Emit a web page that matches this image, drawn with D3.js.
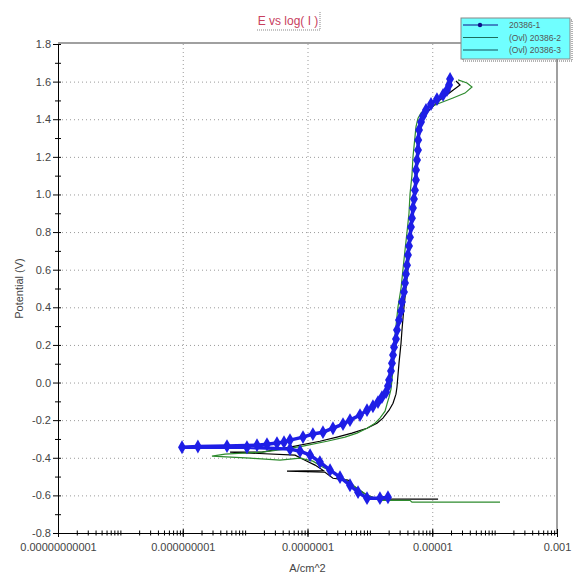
<!DOCTYPE html>
<html>
<head>
<meta charset="utf-8">
<script src="https://cdn.jsdelivr.net/npm/d3@7"></script>
<style>
  body { margin: 0; background: #fff; }
  text { font-family: "Liberation Sans", Arial, sans-serif; }
</style>
</head>
<body>
<div id="chart"></div>
<script>
// series data: potential (V) and current density (A/cm^2)
const names = ["20386-1", "(Ovl) 20386-2", "(Ovl) 20386-3"];
const colors = ["#1e1ee6", "#2e8b2e", "#000000"];

const s1V = [-0.610, -0.615, -0.615, -0.583, -0.546, -0.503, -0.466, -0.423, -0.386, -0.365, -0.354,
  -0.344, -0.344, -0.340, -0.338, -0.333, -0.328, -0.322, -0.317, -0.306,
  -0.290, -0.274, -0.264, -0.243, -0.221, -0.200, -0.173, -0.147, -0.126, -0.104, -0.078, -0.051,
  -0.019, 0.013, 0.061, 0.103, 0.146, 0.188, 0.231, 0.279, 0.332, 0.380, 0.428, 0.481, 0.529,
  0.577, 0.624, 0.678, 0.726, 0.773, 0.827, 0.874, 0.928, 0.976, 1.023, 1.077, 1.130, 1.183,
  1.236, 1.289, 1.343, 1.385, 1.417, 1.449, 1.481, 1.507, 1.529, 1.555, 1.582, 1.614];
const s1I = [1.95e-6, 1.45e-6, 9.0e-7, 6.46e-7, 4.8e-7, 3.32e-7, 2.3e-7, 1.58e-7, 1.1e-7, 7.6e-8, 5.24e-8,
  1.07e-8, 9.73e-10, 1.75e-9, 5.12e-9, 1.55e-8, 2.24e-8, 3.24e-8, 4.2e-8, 5.24e-8,
  8.47e-8, 1.22e-7, 1.77e-7, 2.56e-7, 3.71e-7, 4.8e-7, 6.95e-7, 9.0e-7, 1.12e-6, 1.35e-6, 1.56e-6, 1.82e-6,
  1.95e-6, 2.03e-6, 2.18e-6, 2.26e-6, 2.35e-6, 2.44e-6, 2.62e-6, 2.72e-6, 2.93e-6, 3.16e-6, 3.27e-6, 3.52e-6, 3.66e-6,
  3.79e-6, 3.94e-6, 4.08e-6, 4.24e-6, 4.40e-6, 4.56e-6, 4.73e-6, 4.91e-6, 5.09e-6, 5.28e-6, 5.48e-6, 5.5e-6, 5.70e-6,
  5.91e-6, 5.95e-6, 6.14e-6, 6.61e-6, 7.11e-6, 7.94e-6, 9.55e-6, 1.19e-5, 1.49e-5, 1.72e-5, 1.86e-5, 1.93e-5];

const s2V = [-0.636, -0.636, -0.636, -0.636, -0.626, -0.626, -0.599, -0.562, -0.509, -0.477, -0.450, -0.418,
  -0.402, -0.413, -0.402, -0.391, -0.381, -0.370, -0.354, -0.338, -0.312, -0.290, -0.269, -0.243, -0.216, -0.189,
  -0.152, -0.115, -0.078, -0.035, 0.013, 0.071, 0.135, 0.199, 0.300, 0.401, 0.502, 0.603, 0.704, 0.800,
  0.901, 1.002, 1.103, 1.199, 1.305, 1.359, 1.406, 1.433, 1.449, 1.470, 1.486, 1.513, 1.539, 1.571, 1.593, 1.609];
const s2I = [1.22e-4, 4.03e-5, 1.33e-5, 4.73e-6, 4.40e-6, 1.45e-6, 9.0e-7, 6.22e-7, 3.71e-7, 2.56e-7, 1.77e-7, 1.22e-7,
  7.59e-8, 3.62e-8, 1.2e-8, 2.94e-9, 4.75e-9, 1.87e-8, 4.35e-8, 8.47e-8, 2.06e-7, 3.99e-7, 6.22e-7, 9.0e-7, 1.21e-6, 1.45e-6,
  1.75e-6, 1.88e-6, 2.03e-6, 2.18e-6, 2.26e-6, 2.35e-6, 2.44e-6, 2.44e-6, 2.62e-6, 2.82e-6, 3.16e-6, 3.40e-6, 3.66e-6, 3.94e-6,
  4.24e-6, 4.40e-6, 4.73e-6, 4.91e-6, 5.28e-6, 5.48e-6, 5.91e-6, 6.61e-6, 7.66e-6, 9.91e-6, 1.33e-5, 2.15e-5, 3.35e-5, 4.34e-5, 3.61e-5, 2.59e-5];

const s3V = [-0.620, -0.620, -0.620, -0.599, -0.556, -0.519, -0.509, -0.477, -0.471, -0.468, -0.439, -0.413, -0.386,
  -0.370, -0.370, -0.343, -0.312, -0.290, -0.269, -0.243, -0.216, -0.189, -0.147, -0.110, -0.062, -0.024,
  0.103, 0.210, 0.279, 0.401, 0.603, 0.800, 1.002, 1.199, 1.343, 1.406, 1.454, 1.502, 1.550, 1.582, 1.603];
const s3I = [1.24e-5, 3.04e-6, 1.35e-6, 9.0e-7, 5.78e-7, 4.45e-7, 2.56e-7, 1.91e-7, 4.69e-8, 1.8e-7, 1.32e-7, 9.12e-8, 6.31e-8,
  5.73e-9, 1.87e-8, 5.24e-8, 1.58e-7, 2.97e-7, 5.16e-7, 9.0e-7, 1.30e-6, 1.62e-6, 2.03e-6, 2.35e-6, 2.62e-6, 2.72e-6,
  2.93e-6, 3.16e-6, 3.27e-6, 3.52e-6, 4.08e-6, 4.56e-6, 5.09e-6, 5.70e-6, 6.37e-6, 7.11e-6, 9.21e-6, 1.33e-5, 2.07e-5, 2.79e-5, 2.40e-5];

// axis ticks
const xLabelValues = [1e-11, 1e-9, 1e-7, 1e-5, 1e-3];
const xLabels = ["0.00000000001", "0.000000001", "0.0000001", "0.00001", "0.001"];
const yMajor = [-0.8, -0.6, -0.4, -0.2, 0.0, 0.2, 0.4, 0.6, 0.8, 1.0, 1.2, 1.4, 1.6, 1.8];
const yMinor = [-0.7, -0.5, -0.3, -0.1, 0.1, 0.3, 0.5, 0.7, 0.9, 1.1, 1.3, 1.5, 1.7];

// step 1 svg and scales
const W = 575, H = 575;
const pLeft = 58, pRight = 557, pTop = 44, pBottom = 533;

const svg = d3.select("#chart").append("svg")
  .attr("width", W).attr("height", H);

const x = d3.scaleLog().domain([1e-11, 1e-3]).range([pLeft, pRight]);
const y = d3.scaleLinear().domain([-0.8, 1.8]).range([pBottom, pTop]);

// minor log ticks (2..9 of each decade)
const xMinor = [];
for (let e = -11; e < -3; e++) {
  for (let m = 1; m <= 9; m++) xMinor.push(m * Math.pow(10, e));
}
xMinor.push(1e-3);

// step 2 grid
svg.append("g")
  .attr("transform", "translate(" + pLeft + ",0)")
  .call(d3.axisLeft(y).tickValues(yMajor.filter(d => d > -0.8 && d < 1.8))
    .tickSize(-(pRight - pLeft)).tickFormat(""))
  .call(g => g.select(".domain").remove())
  .selectAll("line")
  .attr("stroke", "#9a9a9a").attr("stroke-dasharray", "1,3");

svg.append("g")
  .attr("transform", "translate(0," + pBottom + ")")
  .call(d3.axisBottom(x).tickValues([1e-9, 1e-7, 1e-5])
    .tickSize(-(pBottom - pTop)).tickFormat(""))
  .call(g => g.select(".domain").remove())
  .selectAll("line")
  .attr("stroke", "#9a9a9a").attr("stroke-dasharray", "1,3");

// frame top and right
svg.append("line").attr("x1", pLeft).attr("x2", pRight).attr("y1", pTop - 1).attr("y2", pTop - 1)
  .attr("stroke", "#808080").attr("stroke-width", 1.5);
svg.append("line").attr("x1", pRight).attr("x2", pRight).attr("y1", pTop - 1).attr("y2", pBottom)
  .attr("stroke", "#808080").attr("stroke-width", 1.5);

// step 3 axes
const yAxisG = svg.append("g")
  .attr("transform", "translate(" + pLeft + ",0)")
  .call(d3.axisLeft(y).tickValues(yMajor).tickFormat(d => d.toFixed(1))
    .tickSizeInner(5).tickSizeOuter(0).tickPadding(2));
yAxisG.selectAll(".tick line").attr("x1", 3);
yAxisG.selectAll("text").attr("fill", "#444").style("font-size", "11px");

svg.append("g")
  .attr("transform", "translate(" + pLeft + ",0)")
  .call(d3.axisLeft(y).tickValues(yMinor).tickFormat("").tickSizeInner(3).tickSizeOuter(0))
  .call(g => g.select(".domain").remove())
  .selectAll(".tick line").attr("x1", 3);

const xAxisG = svg.append("g")
  .attr("transform", "translate(0," + pBottom + ")")
  .call(d3.axisBottom(x).tickValues(xLabelValues)
    .tickFormat((d, i) => xLabels[i]).tickSizeInner(4).tickSizeOuter(0).tickPadding(6));
xAxisG.selectAll(".tick line").attr("y1", -4);
xAxisG.selectAll("text").attr("fill", "#444").style("font-size", "11px");

svg.append("g")
  .attr("transform", "translate(0," + pBottom + ")")
  .call(d3.axisBottom(x).tickValues(xMinor).tickFormat("").tickSizeInner(2.5).tickSizeOuter(0))
  .call(g => g.select(".domain").remove())
  .selectAll(".tick line").attr("y1", -2.5);

// axis labels
svg.append("text")
  .attr("transform", "translate(23," + ((pTop + pBottom) / 2) + ") rotate(-90)")
  .attr("text-anchor", "middle")
  .attr("fill", "#444")
  .style("font-size", "11px")
  .text("Potential (V)");

svg.append("text")
  .attr("x", (pLeft + pRight) / 2).attr("y", 572)
  .attr("text-anchor", "middle")
  .attr("fill", "#444")
  .style("font-size", "11px")
  .text("A/cm^2");

// title with its dotted box edge
svg.append("text")
  .attr("x", 288).attr("y", 25)
  .attr("text-anchor", "middle")
  .attr("fill", "#c8405e")
  .style("font-size", "12px")
  .text("E vs log( I )");
svg.append("path")
  .attr("d", "M257,30 H320 V12")
  .attr("fill", "none").attr("stroke", "#888").attr("stroke-dasharray", "1,1");

// step 4 lines
const line = d3.line().x(d => x(d.i)).y(d => y(d.v));
const zipped = [
  s1V.map((v, k) => ({ v: v, i: s1I[k] })),
  s2V.map((v, k) => ({ v: v, i: s2I[k] })),
  s3V.map((v, k) => ({ v: v, i: s3I[k] }))
];

[2, 1].forEach(k => {
  svg.append("path")
    .datum(zipped[k])
    .attr("fill", "none")
    .attr("stroke", colors[k])
    .attr("stroke-width", 1.2)
    .attr("d", line);
});

svg.append("path")
  .datum(zipped[0])
  .attr("fill", "none")
  .attr("stroke", colors[0])
  .attr("stroke-width", 3.5)
  .attr("d", line);

svg.selectAll(".marker")
  .data(zipped[0])
  .enter()
  .append("path")
  .attr("class", "marker")
  .attr("d", d3.symbol().type(d3.symbolDiamond).size(55))
  .attr("transform", d => "translate(" + x(d.i) + "," + y(d.v) + ")")
  .attr("fill", colors[0]);

// step 5 legend
const lg = svg.append("g").attr("transform", "translate(461,18)");
lg.append("rect").attr("x", 2).attr("y", 2).attr("width", 109).attr("height", 41)
  .attr("fill", "none").attr("stroke", "#666").attr("stroke-dasharray", "1,1");
lg.append("rect").attr("width", 109).attr("height", 41)
  .attr("fill", "#70ffff").attr("stroke", "#888");

names.forEach((n, k) => {
  const yy = 7 + k * 12.5;
  lg.append("line").attr("x1", 2).attr("x2", 37).attr("y1", yy).attr("y2", yy)
    .attr("stroke", k === 0 ? "#10108a" : (k === 1 ? "#1e6e5e" : "#10505a")).attr("stroke-width", 1.2);
  if (k === 0) {
    lg.append("circle").attr("cx", 19).attr("cy", yy).attr("r", 2.2).attr("fill", "#10108a");
  }
  lg.append("text").attr("x", 48).attr("y", yy + 3)
    .attr("fill", "#555")
    .style("font-size", "8.5px")
    .text(n);
});
</script>
</body>
</html>
